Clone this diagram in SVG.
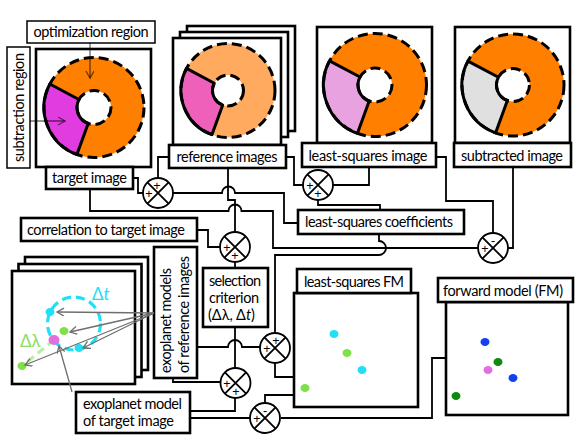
<svg xmlns="http://www.w3.org/2000/svg" xmlns:xlink="http://www.w3.org/1999/xlink" width="581" height="436" viewBox="0 0 581 436">
<style>
.fr{fill:#fff;stroke:#000;stroke-width:2.6}
.bx{fill:#fff;stroke:#000;stroke-width:2.6}
.tb{fill:#fff;stroke:#000;stroke-width:1.5}
.cn{fill:none;stroke:#000;stroke-width:1.8}
.ds{fill:none;stroke:#000;stroke-width:3;stroke-dasharray:10 5}
.so{fill:none;stroke:#000;stroke-width:3;stroke-linejoin:round}
.t{font-family:Lato,"Liberation Sans",sans-serif;font-size:14.5px;fill:#000}
.sg{font-family:"Liberation Sans",sans-serif;font-size:12.5px;fill:#000;text-anchor:middle}
.ga{fill:none;stroke:#6e6e6e;stroke-width:1.3;marker-end:url(#ag)}
.da{fill:none;stroke:#000;stroke-opacity:0.55;stroke-width:1.4;marker-end:url(#ad)}
</style>
<defs>
<marker id="ag" markerUnits="userSpaceOnUse" markerWidth="10" markerHeight="10" refX="8" refY="4" orient="auto">
<path d="M1,0 L8,4 L1,8" fill="none" stroke="#6e6e6e" stroke-width="1.3"/>
</marker>
<marker id="ad" markerUnits="userSpaceOnUse" markerWidth="10" markerHeight="10" refX="8" refY="4" orient="auto">
<path d="M1,0 L8,4 L1,8" fill="none" stroke="#000" stroke-opacity="0.55" stroke-width="1.4"/>
</marker>
<g id="jx">
<circle r="15" fill="#fff" stroke="#000" stroke-width="1.8"/>
<path d="M-10.6,-10.6 L10.6,10.6 M-10.6,10.6 L10.6,-10.6" stroke="#000" stroke-width="1.8"/>
</g>
</defs>
<rect width="581" height="436" fill="#fff"/>

<g id="connectors">
<path class="cn" d="M133,178 H138 V193 H143"/>
<path class="cn" d="M169,157 H158 V178"/>
<path class="cn" d="M173,193 H222 A6.5,6.5 0 0 1 235,193 H284 V223 H298"/>
<path class="cn" d="M228,168 V200 H235 V232"/>
<path class="cn" d="M90,189 V211 H228.5 A6.5,6.5 0 0 1 241.5,211 H273 V248 H478"/>
<path class="cn" d="M379,234 V241 A7,7 0 0 1 379,255 H275 V333"/>
<path class="cn" d="M197,230 H208 V247 H220"/>
<path class="cn" d="M235,262 V268"/>
<path class="cn" d="M286,157 H294 V185 H303"/>
<path class="cn" d="M369,167 V185 H333"/>
<path class="cn" d="M318,200 V205 H380 V210"/>
<path class="cn" d="M436,157 H446 V201 H493 V233"/>
<path class="cn" d="M513,167 V248 H508"/>
<path class="cn" d="M197,347 H228 A7,7 0 0 1 242,347 H260"/>
<path class="cn" d="M235,327 V368"/>
<path class="cn" d="M173,378 V382 H220"/>
<path class="cn" d="M235,398 V411 H190"/>
<path class="cn" d="M190,418 H250"/>
<path class="cn" d="M265,403 V395 H294"/>
<path class="cn" d="M275,363 V377 H294"/>
<path class="cn" d="M281,418 H432 V358 H446"/>
</g>

<g id="target-image">
<rect class="fr" x="36" y="49" width="115" height="118"/>
<circle cx="94" cy="107.5" r="50" fill="#FF7F00"/>
<path d="M88.19,123.47 L76.90,154.48 A50,50 0 0 1 49.85,84.03 L78.99,99.52 Z" fill="#E03CE0"/>
<circle cx="94" cy="107.5" r="17" fill="#fff"/>
<circle class="ds" cx="94" cy="107.5" r="50"/>
<circle class="ds" cx="94" cy="107.5" r="17"/>
<path class="so" d="M88.19,123.47 L76.90,154.48 A50,50 0 0 1 49.85,84.03 L78.99,99.52 A17,17 0 0 0 88.19,123.47 Z"/>
<rect class="bx" x="46" y="167" width="87" height="22"/>
<text class="t" x="89.5" y="183" text-anchor="middle" textLength="75">target image</text>
</g>

<g id="optimization-region">
<rect class="tb" x="27" y="21" width="128" height="22"/>
<text class="t" x="91" y="37" text-anchor="middle" textLength="115">optimization region</text>
<path class="da" d="M90,43 V78"/>
</g>

<g id="subtraction-region">
<rect class="tb" x="7" y="47" width="23" height="121"/>
<text class="t" transform="translate(23.5,107.5) rotate(-90)" text-anchor="middle" textLength="109">subtraction region</text>
<path class="da" d="M30,121 H65"/>
</g>

<g id="reference-images">
<rect class="fr" x="187" y="26" width="108" height="105"/>
<rect class="fr" x="180" y="32" width="108" height="105"/>
<rect class="fr" x="173" y="38" width="108" height="107"/>
<circle cx="228" cy="90.5" r="47" fill="#FFAA5F"/>
<path d="M222.70,105.07 L211.93,134.67 A47,47 0 0 1 186.50,68.43 L214.32,83.22 Z" fill="#EE60BA"/>
<circle cx="228" cy="90.5" r="15.5" fill="#fff"/>
<circle class="ds" cx="228" cy="90.5" r="47"/>
<circle class="ds" cx="228" cy="90.5" r="15.5"/>
<path class="so" d="M222.70,105.07 L211.93,134.67 A47,47 0 0 1 186.50,68.43 L214.32,83.22 A15.5,15.5 0 0 0 222.70,105.07 Z"/>
<rect class="bx" x="169" y="145" width="117" height="23"/>
<text class="t" x="227" y="161.5" text-anchor="middle" textLength="101">reference images</text>
</g>

<g id="least-squares-image">
<rect class="fr" x="317" y="27" width="115" height="116"/>
<circle cx="375" cy="85" r="51.5" fill="#FF7F00"/>
<path d="M369.19,100.97 L357.39,133.39 A51.5,51.5 0 0 1 329.53,60.82 L359.99,77.02 Z" fill="#E8A2E0"/>
<circle cx="375" cy="85" r="17" fill="#fff"/>
<circle class="ds" cx="375" cy="85" r="51.5"/>
<circle class="ds" cx="375" cy="85" r="17"/>
<path class="so" d="M369.19,100.97 L357.39,133.39 A51.5,51.5 0 0 1 329.53,60.82 L359.99,77.02 A17,17 0 0 0 369.19,100.97 Z"/>
<rect class="bx" x="302" y="143" width="134" height="24"/>
<text class="t" x="368" y="160.5" text-anchor="middle" textLength="119">least-squares image</text>
</g>

<g id="subtracted-image">
<rect class="fr" x="455" y="27" width="115" height="116"/>
<circle cx="513" cy="85" r="51" fill="#FF7F00"/>
<path d="M507.36,100.51 L495.56,132.92 A51,51 0 0 1 467.97,61.06 L498.43,77.25 Z" fill="#E0E0E0"/>
<circle cx="513" cy="85" r="16.5" fill="#fff"/>
<circle class="ds" cx="513" cy="85" r="51"/>
<circle class="ds" cx="513" cy="85" r="16.5"/>
<path class="so" d="M507.36,100.51 L495.56,132.92 A51,51 0 0 1 467.97,61.06 L498.43,77.25 A16.5,16.5 0 0 0 507.36,100.51 Z"/>
<rect class="bx" x="454" y="143" width="117" height="24"/>
<text class="t" x="512" y="160.5" text-anchor="middle" textLength="102">subtracted image</text>
</g>

<g id="least-squares-coefficients">
<rect class="bx" x="298" y="210" width="166" height="24"/>
<text class="t" x="379" y="227" text-anchor="middle" textLength="148">least-squares coefficients</text>
</g>

<g id="correlation">
<rect class="bx" x="21" y="218" width="176" height="23"/>
<text class="t" x="106" y="234.5" text-anchor="middle" textLength="158">correlation to target image</text>
</g>

<g id="selection-criterion">
<rect class="bx" x="203" y="268" width="65" height="59"/>
<text class="t" x="209" y="286" textLength="52">selection</text>
<text class="t" x="209" y="303" textLength="50">criterion</text>
<text class="t" x="208" y="320">(Δλ, Δ<tspan font-style="italic">t</tspan>)</text>
</g>

<g id="exoplanet-models-reference">
<rect class="bx" x="154" y="247" width="43" height="131"/>
<text class="t" transform="translate(170.5,373) rotate(-90)" textLength="105">exoplanet models</text>
<text class="t" transform="translate(188.5,373) rotate(-90)" textLength="117">of reference images</text>
</g>

<g id="exoplanet-frames">
<rect class="fr" x="25" y="257" width="123" height="113"/>
<rect class="fr" x="18.5" y="264" width="123" height="113"/>
<rect class="fr" x="12" y="271" width="123" height="113"/>
<circle cx="74" cy="323.5" r="26.5" fill="none" stroke="#20E0F5" stroke-width="3.2" stroke-dasharray="9 5"/>
<line x1="54" y1="340" x2="22" y2="366" stroke="#B8F0A0" stroke-width="3.2" stroke-dasharray="8 5"/>
<ellipse cx="50" cy="312" rx="4.5" ry="4" fill="#20E0F5"/>
<ellipse cx="79" cy="348" rx="4.5" ry="4" fill="#20E0F5"/>
<ellipse cx="64" cy="331" rx="4.5" ry="4" fill="#80E04A"/>
<ellipse cx="22" cy="366" rx="4.5" ry="4" fill="#80E04A"/>
<ellipse cx="54" cy="340" rx="5.5" ry="5" fill="#E070E0"/>
<text x="92" y="300" font-family="Lato,'Liberation Sans',sans-serif" font-size="17" fill="#20E0F5">Δ<tspan font-style="italic">t</tspan></text>
<text x="20" y="347" font-family="Lato,'Liberation Sans',sans-serif" font-size="17" fill="#88E060">Δλ</text>
<path class="ga" d="M154,313 L57,312"/>
<path class="ga" d="M154,313 L70,332"/>
<path class="ga" d="M154,313 L83,348"/>
<path class="ga" d="M154,313 L25,365"/>
<path class="ga" d="M72,392 L59,346"/>
</g>

<g id="exoplanet-model-target">
<rect class="bx" x="76" y="392" width="114" height="41"/>
<text class="t" x="83" y="409" textLength="99">exoplanet model</text>
<text class="t" x="83" y="426" textLength="91">of target image</text>
</g>

<g id="least-squares-fm">
<rect class="fr" x="294" y="293" width="124" height="114"/>
<rect class="bx" x="297" y="269" width="114" height="24"/>
<text class="t" x="354" y="286.5" text-anchor="middle" textLength="100">least-squares FM</text>
<ellipse cx="334" cy="334" rx="4.5" ry="4" fill="#20E0F5"/>
<ellipse cx="347" cy="353" rx="4.5" ry="4" fill="#80E04A"/>
<ellipse cx="362" cy="370" rx="4.5" ry="4" fill="#20E0F5"/>
<ellipse cx="305" cy="388" rx="4.5" ry="4" fill="#80E04A"/>
</g>

<g id="forward-model">
<rect class="fr" x="446" y="302" width="122" height="113"/>
<rect class="bx" x="438" y="278" width="135" height="24"/>
<text class="t" x="503" y="295.5" text-anchor="middle" textLength="120">forward model (FM)</text>
<ellipse cx="485" cy="342" rx="4.5" ry="4" fill="#1540F0"/>
<ellipse cx="498" cy="362" rx="4.5" ry="4" fill="#0F8A0F"/>
<ellipse cx="488" cy="370" rx="4.5" ry="4" fill="#E070E0"/>
<ellipse cx="513" cy="378" rx="4.5" ry="4" fill="#1540F0"/>
<ellipse cx="456" cy="396" rx="4.5" ry="4" fill="#0F8A0F"/>
</g>

<g id="j1"><use xlink:href="#jx" x="158" y="193"/><text class="sg" x="157" y="190">+</text><text class="sg" x="149" y="197.5">+</text></g>
<g id="j2"><use xlink:href="#jx" x="318" y="185"/><text class="sg" x="310" y="190">+</text><text class="sg" x="318" y="198">+</text></g>
<g id="j3"><use xlink:href="#jx" x="493" y="248"/><text class="sg" x="493" y="245">-</text><text class="sg" x="485" y="253">+</text></g>
<g id="j4"><use xlink:href="#jx" x="235" y="247"/><text class="sg" x="227" y="251.5">+</text><text class="sg" x="235" y="260">+</text></g>
<g id="j5"><use xlink:href="#jx" x="275" y="348"/><text class="sg" x="276" y="345">+</text><text class="sg" x="267" y="352.5">+</text></g>
<g id="j6"><use xlink:href="#jx" x="235.5" y="383"/><text class="sg" x="227" y="387.5">+</text><text class="sg" x="236" y="396">+</text></g>
<g id="j7"><use xlink:href="#jx" x="265" y="418"/><text class="sg" x="265" y="415">-</text><text class="sg" x="257" y="422.5">+</text></g>
</svg>
